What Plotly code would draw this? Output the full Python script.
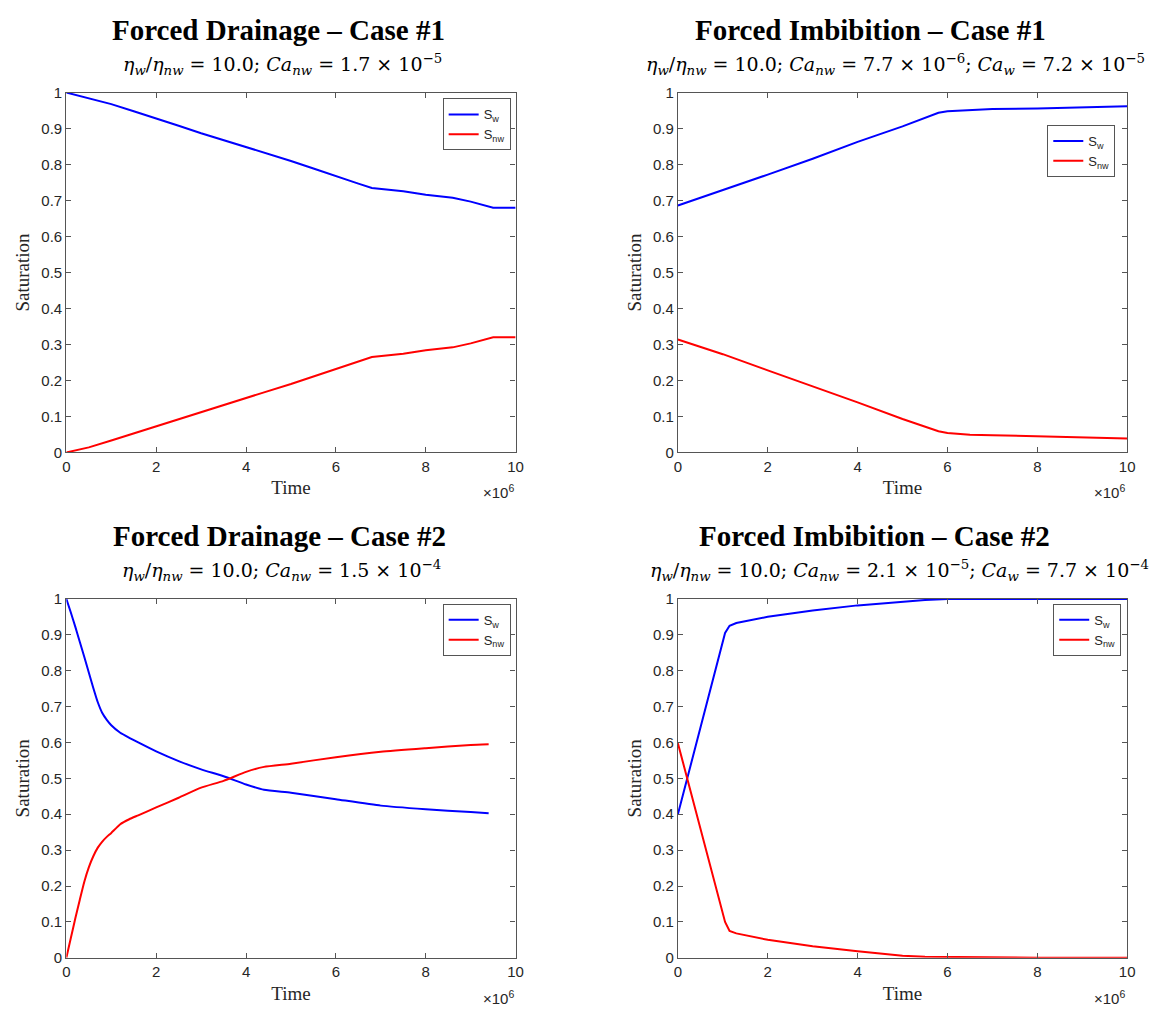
import plotly.graph_objects as go

# ---------------- data (time in units of 1e6) ----------------
time_d1 = [0, 0.5, 1, 1.5, 2, 2.5, 3, 3.5, 4, 4.4, 5, 5.5, 6, 6.5, 6.8, 7.5, 8, 8.6, 9, 9.5, 10]
sw_d1 = [1.0, 0.985, 0.968, 0.948, 0.929, 0.908, 0.887, 0.868, 0.849, 0.833, 0.810, 0.789,
         0.767, 0.747, 0.735, 0.726, 0.716, 0.708, 0.697, 0.680, 0.680]
snw_d1 = [0.0, 0.014, 0.033, 0.053, 0.072, 0.092, 0.113, 0.132, 0.151, 0.167, 0.190, 0.211,
          0.233, 0.253, 0.265, 0.274, 0.284, 0.292, 0.303, 0.320, 0.320]

time_i1 = [0, 1, 2, 3, 4, 5, 5.8, 6, 6.5, 7, 8, 9, 10]
sw_i1 = [0.686, 0.728, 0.772, 0.816, 0.863, 0.906, 0.944, 0.948, 0.952, 0.954, 0.956, 0.959, 0.962]
snw_i1 = [0.314, 0.273, 0.228, 0.184, 0.139, 0.093, 0.059, 0.054, 0.049, 0.048, 0.045, 0.042, 0.039]

time_d2 = [0, 0.1, 0.2, 0.3, 0.4, 0.5, 0.6, 0.7, 0.8, 0.9, 1.0, 1.2, 1.4, 1.6, 2, 2.5, 3, 3.5,
           4, 4.4, 5, 6, 7, 8, 9, 9.4]
sw_d2 = [1.0, 0.962, 0.922, 0.880, 0.838, 0.795, 0.752, 0.712, 0.682, 0.663, 0.648, 0.627,
         0.613, 0.600, 0.575, 0.548, 0.525, 0.506, 0.483, 0.468, 0.460, 0.442, 0.424, 0.414,
         0.406, 0.403]
snw_d2 = [0.0, 0.055, 0.11, 0.162, 0.212, 0.252, 0.283, 0.307, 0.324, 0.337, 0.348, 0.372,
          0.386, 0.397, 0.419, 0.446, 0.474, 0.493, 0.518, 0.532, 0.541, 0.559, 0.574, 0.584,
          0.593, 0.595]

time_i2 = [0, 0.2, 0.5, 0.8, 1.05, 1.15, 1.3, 2, 3, 4, 5, 5.5, 6, 7, 8, 9, 10]
sw_i2 = [0.40, 0.497, 0.64, 0.785, 0.905, 0.925, 0.933, 0.950, 0.968, 0.982, 0.993, 0.997,
         1.0, 1.0, 1.0, 1.0, 1.0]
snw_i2 = [0.598, 0.503, 0.36, 0.218, 0.10, 0.075, 0.068, 0.050, 0.032, 0.018, 0.006, 0.003,
          0.002, 0.001, 0.0, 0.0, 0.0]

titles = ["Forced Drainage – Case #1", "Forced Imbibition – Case #1",
          "Forced Drainage – Case #2", "Forced Imbibition – Case #2"]

def eta():
    return "<i>η</i><sub><i>w</i></sub>/<i>η</i><sub><i>nw</i></sub> = 10.0"

def ca(sub, mant, exp):
    return f"<i>Ca</i><sub><i>{sub}</i></sub> = {mant} × 10<sup>−{exp}</sup>"

subtitles = [
    eta() + "; " + ca("nw", "1.7", "5"),
    eta() + "; " + ca("nw", "7.7", "6") + "; " + ca("w", "7.2", "5"),
    eta() + "; " + ca("nw", "1.5", "4"),
    eta() + "; " + ca("nw", "2.1", "5") + "; " + ca("w", "7.7", "4"),
]

W, H = 1151, 1012
# plot areas in pixels: (left, right, top, bottom)
boxes = [(63, 517, 85, 451), (681, 1135, 85, 451), (63, 517, 600, 965), (681, 1135, 600, 965)]
title_cx = [277, 876, 278, 880]
sub_cx = [281, 901, 280, 905]
legend_pos = [(512, 91), (1123, 118), (512, 605), (1129, 605)]
smooth = [False, False, True, False]

series = [(time_d1, sw_d1, snw_d1), (time_i1, sw_i1, snw_i1),
          (time_d2, sw_d2, snw_d2), (time_i2, sw_i2, snw_i2)]

AX = "#555555"
TXT = "#262626"

fig = go.Figure()
layout = dict(width=W, height=H, margin=dict(l=0, r=0, t=0, b=0),
              paper_bgcolor="white", plot_bgcolor="white", showlegend=True)
annotations = []

for i, ((t, sw, snw), (l, r, tp, bt)) in enumerate(zip(series, boxes)):
    n = "" if i == 0 else str(i + 1)
    xa, ya = "x" + n, "y" + n
    lg = "legend" if i == 0 else f"legend{i + 1}"
    shape = dict(shape="spline", smoothing=0.5) if smooth[i] else dict(shape="linear")
    fig.add_trace(go.Scatter(x=t, y=sw, mode="lines", name="S<sub>w</sub>",
                             line=dict(color="#0000ff", width=2, **shape),
                             xaxis=xa, yaxis=ya, legend=lg))
    fig.add_trace(go.Scatter(x=t, y=snw, mode="lines", name="S<sub>nw</sub>",
                             line=dict(color="#ff0000", width=2, **shape),
                             xaxis=xa, yaxis=ya, legend=lg))
    common = dict(showline=True, linecolor=AX, linewidth=1.3, mirror="ticks", ticks="inside",
                  ticklen=5, tickcolor=AX, tickwidth=1.2, showgrid=False, zeroline=False,
                  tickfont=dict(family="Liberation Sans, Arial", size=15, color=TXT))
    layout["xaxis" + n] = dict(common, domain=[l / W, r / W], anchor=ya, range=[0, 10],
                               tickvals=[0, 2, 4, 6, 8, 10], ticktext=["0", "2", "4", "6", "8", "10"],
                               title=dict(text="Time", standoff=7,
                                          font=dict(family="Liberation Serif", size=19, color=TXT)))
    layout["yaxis" + n] = dict(common, domain=[1 - bt / H, 1 - tp / H], anchor=xa, range=[0, 1],
                               tickvals=[k / 10 for k in range(11)],
                               ticktext=["0"] + [f"0.{k}" for k in range(1, 10)] + ["1"],
                               title=dict(text="Saturation", standoff=6,
                                          font=dict(family="Liberation Serif", size=19, color=TXT)))
    lx, ly = legend_pos[i]
    layout[lg] = dict(x=lx / W, y=1 - ly / H, xanchor="right", yanchor="top",
                      bgcolor="white", bordercolor=AX, borderwidth=1,
                      font=dict(family="Liberation Sans, Arial", size=13, color=TXT),
                      itemwidth=30, tracegroupgap=0)
    annotations.append(dict(text="<b>" + titles[i] + "</b>", x=title_cx[i] / W, y=1 - (tp - 64) / H,
                            xref="paper", yref="paper", xanchor="center", yanchor="middle",
                            showarrow=False,
                            font=dict(family="Liberation Serif", size=29, color="black")))
    annotations.append(dict(text=subtitles[i], x=sub_cx[i] / W, y=1 - (tp - 29) / H,
                            xref="paper", yref="paper", xanchor="center", yanchor="middle",
                            showarrow=False,
                            font=dict(family="DejaVu Serif", size=19, color="black")))
    annotations.append(dict(text="×10<sup>6</sup>", x=r / W, y=1 - (bt + 40) / H,
                            xref="paper", yref="paper", xanchor="right", yanchor="middle",
                            showarrow=False,
                            font=dict(family="Liberation Sans, Arial", size=15, color=TXT)))

layout["annotations"] = annotations
fig.update_layout(**layout)
fig.write_html("out.html")
